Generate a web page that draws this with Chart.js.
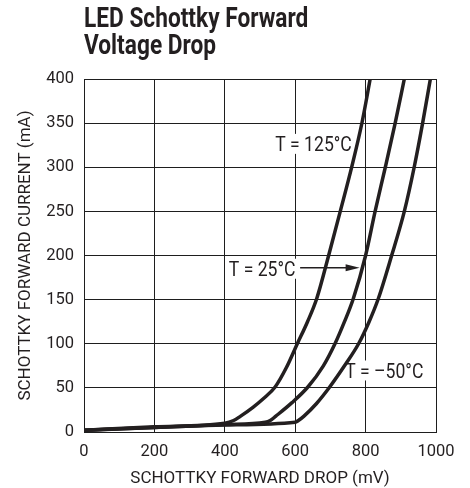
<!DOCTYPE html>
<html lang="en">
<head>
<meta charset="UTF-8">
<title>LED Schottky Forward Voltage Drop</title>
<script src="https://cdn.jsdelivr.net/npm/chart.js"></script>
<style>
  body { margin: 0; background: #fff; }
  .wrap { position: relative; width: 470px; height: 488px; }
  .titulo { position: absolute; left: 84px; top: 5px; font-family: Roboto, sans-serif; font-weight: bold; font-size: 27px; line-height: 26.5px; color: #231f20; transform: scaleX(0.84); transform-origin: left top; white-space: nowrap; }
  canvas { position: absolute; left: 0; top: 0; }
</style>
</head>
<body>
<div class="wrap">
  <canvas id="grafico" width="470" height="488"></canvas>
  <div class="titulo">LED Schottky Forward<br>Voltage Drop</div>
</div>
<script>
// tick labels
const xTicks = [0, 200, 400, 600, 800, 1000];
const yTicks = [0, 50, 100, 150, 200, 250, 300, 350, 400];

// T = 125°C
const drop125 = [0, 200, 400, 425, 445, 480, 510, 543, 575, 606, 635, 661, 695, 728, 761, 790, 813];
const curr125 = [2, 6, 10, 13, 18, 28, 38, 51, 73, 100, 125, 151, 200, 250, 301, 351, 400];
// T = 25°C
const drop25 = [0, 200, 400, 515, 529, 545, 590, 636, 680, 713, 740, 765, 800, 827, 856, 884, 910];
const curr25 = [2, 5, 8.5, 11, 13, 18, 33, 51, 75, 100, 125, 151, 200, 250, 300, 350, 400];
// T = -50°C
const dropM50 = [0, 200, 400, 600, 609, 625, 660, 698, 740, 780, 810, 836, 874, 910, 938, 962, 984];
const currM50 = [2, 5, 8, 11, 13, 18, 32, 51, 75, 100, 125, 151, 200, 250, 300, 350, 400];

// curve labels (in data units)
const noteText = ['T = 125°C', 'T = 25°C', 'T = \u201350°C'];
const noteMv = [652, 506, 853];
const noteMa = [326.5, 185, 69.7];
const arrowFromMv = 614, arrowToMv = 783, arrowMa = 186;

const ink = '#231f20';

function pares(xs, ys) {
  return xs.map((v, i) => ({ x: v, y: ys[i] }));
}

function serie(label, xs, ys) {
  return {
    label: label,
    data: pares(xs, ys),
    showLine: true,
    borderColor: ink,
    borderWidth: 3.5,
    pointRadius: 0,
    cubicInterpolationMode: 'monotone',
    borderCapStyle: 'round',
    borderJoinStyle: 'round'
  };
}

const notas = {
  id: 'notas',
  beforeDatasetsDraw(chart) {
    const { ctx, scales: { x, y } } = chart;
    ctx.save();
    ctx.font = '20px Roboto';
    noteText.forEach((txt, i) => {
      const cx = x.getPixelForValue(noteMv[i]);
      const cy = y.getPixelForValue(noteMa[i]);
      const w = ctx.measureText(txt).width * 0.88;
      ctx.fillStyle = '#fff';
      ctx.fillRect(cx - w / 2 - 3, cy - 10, w + 6, 20);
      ctx.save();
      ctx.translate(cx, cy + 7.1);
      ctx.scale(0.88, 1);
      ctx.fillStyle = ink;
      ctx.textAlign = 'center';
      ctx.textBaseline = 'alphabetic';
      ctx.fillText(txt, 0, 0);
      ctx.restore();
    });
    // arrow to the 25°C curve
    const x0 = x.getPixelForValue(arrowFromMv);
    const x1 = x.getPixelForValue(arrowToMv);
    const ay = y.getPixelForValue(arrowMa);
    ctx.strokeStyle = ink;
    ctx.lineWidth = 1.5;
    ctx.beginPath();
    ctx.moveTo(x0, ay);
    ctx.lineTo(x1 - 10, ay);
    ctx.stroke();
    ctx.fillStyle = ink;
    ctx.beginPath();
    ctx.moveTo(x1, ay);
    ctx.lineTo(x1 - 14, ay - 3.5);
    ctx.lineTo(x1 - 14, ay + 3.5);
    ctx.closePath();
    ctx.fill();
    ctx.restore();
  }
};

new Chart(document.getElementById('grafico'), {
  type: 'scatter',
  data: {
    datasets: [
      serie('T = 125°C', drop125, curr125),
      serie('T = 25°C', drop25, curr25),
      serie('T = -50°C', dropM50, currM50)
    ]
  },
  options: {
    responsive: false,
    animation: false,
    layout: { padding: { top: 79, right: 34, left: 0, bottom: 0 } },
    plugins: { legend: { display: false }, tooltip: { enabled: false } },
    scales: {
      x: {
        type: 'linear',
        min: 0,
        max: 1000,
        afterBuildTicks: s => { s.ticks = xTicks.map(v => ({ value: v })); },
        afterFit: s => { s.height = 56; },
        grid: { color: '#1e1e1e', lineWidth: 1, drawTicks: false },
        border: { color: '#1e1e1e', width: 1 },
        ticks: {
          padding: 10, color: ink, font: { family: 'Roboto', size: 16.5 }, maxRotation: 0,
          callback: v => String(v)
        },
        title: {
          display: true,
          text: 'SCHOTTKY FORWARD DROP (mV)',
          color: ink,
          font: { family: 'Roboto', size: 17, lineHeight: 1 },
          padding: { top: 0, bottom: 1 }
        }
      },
      y: {
        type: 'linear',
        min: 0,
        max: 400,
        afterBuildTicks: s => { s.ticks = yTicks.map(v => ({ value: v })); },
        afterFit: s => { s.width = 84; },
        grid: { color: '#1e1e1e', lineWidth: 1, drawTicks: false },
        border: { color: '#1e1e1e', width: 1 },
        ticks: { padding: 10, color: ink, font: { family: 'Roboto', size: 16.5 }, callback: v => String(v) },
        title: {
          display: true,
          text: 'SCHOTTKY FORWARD CURRENT (mA)',
          color: ink,
          font: { family: 'Roboto', size: 17, lineHeight: 1 },
          padding: { top: 17.5, bottom: 0 }
        }
      }
    }
  },
  plugins: [notas]
});
</script>
</body>
</html>
